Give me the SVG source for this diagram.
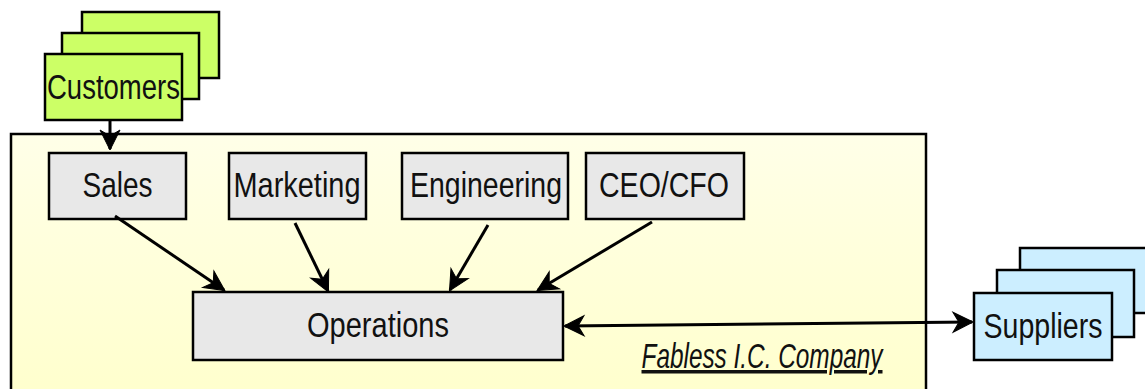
<svg xmlns="http://www.w3.org/2000/svg" width="1145" height="389" viewBox="0 0 1145 389">
<defs>
<linearGradient id="bg" x1="0" y1="0" x2="0" y2="1">
<stop offset="0" stop-color="#ffffe8"/>
<stop offset="1" stop-color="#ffffcc"/>
</linearGradient>
<marker id="ah" markerUnits="userSpaceOnUse" markerWidth="40" markerHeight="40" refX="0" refY="0" viewBox="-20 -20 40 40" orient="auto-start-reverse" overflow="visible">
<path d="M1,0 L-19,-10 L-13,0 L-19,10 Z" fill="#000" stroke="#000" stroke-width="1" stroke-linejoin="miter"/>
</marker>
</defs>
<style>
.lbl{font-family:"Liberation Sans Narrow","Liberation Sans",Arial,sans-serif;font-size:35px;fill:#111;text-anchor:middle}
.grn{fill:#ccff66;stroke:#000;stroke-width:2.5}
.blu{fill:#cceeff;stroke:#000;stroke-width:2.5}
.gry{fill:#e8e8e8;stroke:#000;stroke-width:2.5}
.con{fill:none;stroke:#000;stroke-width:3}
</style>
<g id="company">
<rect x="11" y="134" width="915" height="270" fill="url(#bg)" stroke="#000" stroke-width="2.5"/>
<text x="762" y="368" class="lbl" font-size="29" font-style="italic" text-decoration="underline" textLength="241" lengthAdjust="spacingAndGlyphs">Fabless I.C. Company</text>
</g>
<g id="customers">
<rect class="grn" x="82" y="12" width="137" height="66"/>
<rect class="grn" x="62" y="33" width="137" height="66"/>
<rect class="grn" x="45" y="54" width="137" height="66"/>
<text class="lbl" x="113.5" y="99" textLength="133" lengthAdjust="spacingAndGlyphs">Customers</text>
</g>
<g id="suppliers">
<rect class="blu" x="1020" y="248" width="140" height="65"/>
<rect class="blu" x="997" y="270" width="137" height="67"/>
<rect class="blu" x="974" y="293" width="138" height="67"/>
<text class="lbl" x="1043" y="338" textLength="119" lengthAdjust="spacingAndGlyphs">Suppliers</text>
</g>
<g id="sales">
<rect class="gry" x="49" y="153" width="137" height="66"/>
<text class="lbl" x="117.5" y="197" textLength="70" lengthAdjust="spacingAndGlyphs">Sales</text>
</g>
<g id="marketing">
<rect class="gry" x="229" y="153" width="137" height="66"/>
<text class="lbl" x="297" y="197" textLength="127" lengthAdjust="spacingAndGlyphs">Marketing</text>
</g>
<g id="engineering">
<rect class="gry" x="402" y="153" width="166" height="66"/>
<text class="lbl" x="486" y="197" textLength="152" lengthAdjust="spacingAndGlyphs">Engineering</text>
</g>
<g id="ceo">
<rect class="gry" x="586" y="153" width="158" height="66"/>
<text class="lbl" x="664" y="197" textLength="130" lengthAdjust="spacingAndGlyphs">CEO/CFO</text>
</g>
<g id="operations">
<rect class="gry" x="193" y="292" width="370" height="68"/>
<text class="lbl" x="378" y="337" textLength="142" lengthAdjust="spacingAndGlyphs">Operations</text>
</g>
<g id="connectors">
<line class="con" x1="110" y1="120" x2="110" y2="149" marker-end="url(#ah)"/>
<line class="con" x1="115" y1="216" x2="224" y2="290" marker-end="url(#ah)"/>
<line class="con" x1="295" y1="223" x2="328" y2="291" marker-end="url(#ah)"/>
<line class="con" x1="488" y1="225" x2="450" y2="290" marker-end="url(#ah)"/>
<line class="con" x1="652" y1="222" x2="538" y2="290" marker-end="url(#ah)"/>
<line class="con" x1="565" y1="326" x2="972" y2="322" marker-start="url(#ah)" marker-end="url(#ah)"/>
</g>
</svg>
